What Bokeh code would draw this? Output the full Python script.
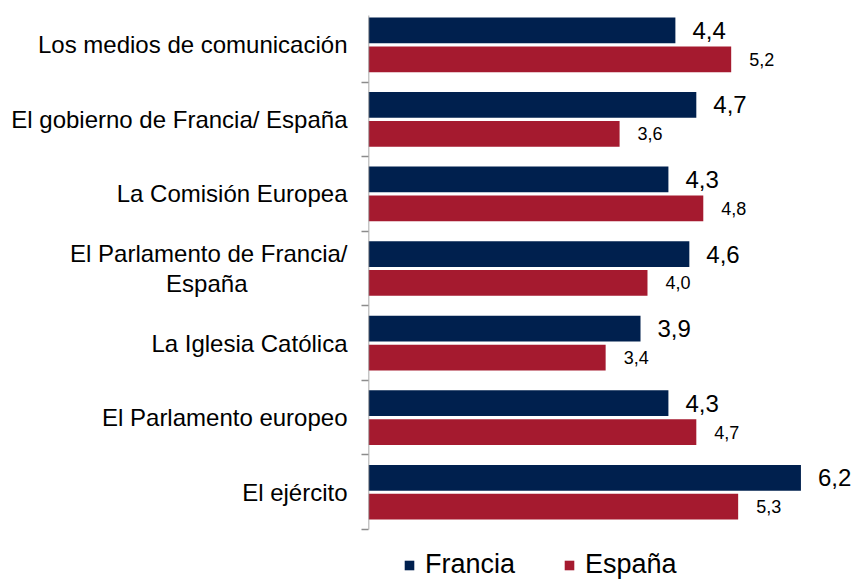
from bokeh.plotting import figure
from bokeh.models import ColumnDataSource, Range1d, FixedTicker, Legend, LegendItem
from bokeh.core.properties import value
from bokeh.embed import file_html
from bokeh.resources import INLINE

NB = "\u00a0"
categories = [
    "Los medios de comunicación",
    "El gobierno de Francia/ España",
    "La Comisión Europea",
    "El Parlamento de Francia/\nEspaña" + NB * 15,
    "La Iglesia Católica",
    "El Parlamento europeo",
    "El ejército",
]
francia = [4.4, 4.7, 4.3, 4.6, 3.9, 4.3, 6.2]
espana = [5.2, 3.6, 4.8, 4.0, 3.4, 4.7, 5.3]
series_names = ["Francia", "España"]
colors = ["#00204E", "#A51A2F"]

n = len(categories)
pos = [n - i for i in range(n)]  # top category at highest position
off = 0.194
bar_h = 0.345
axis_top = n + 0.393
axis_bottom = 0.5

def fmt(v):
    return f"{v:.1f}".replace(".", ",")

src_f = ColumnDataSource(dict(y=[p_ + off for p_ in pos], x=francia,
                              lab=[fmt(v) for v in francia]))
src_e = ColumnDataSource(dict(y=[p_ - off for p_ in pos], x=espana,
                              lab=[fmt(v) for v in espana]))

p = figure(width=854, height=580, output_backend="svg", toolbar_location=None,
           x_range=Range1d(0, 6.968), y_range=Range1d(-0.1836, 7.594),
           x_axis_location=None, min_border_left=368, min_border_right=0,
           min_border_top=0, min_border_bottom=0)
p.outline_line_color = None
p.xgrid.visible = False
p.ygrid.visible = False

rf = p.hbar(y="y", right="x", left=0, height=bar_h, source=src_f,
            fill_color=colors[0], line_color=None)
re_ = p.hbar(y="y", right="x", left=0, height=bar_h, source=src_e,
             fill_color=colors[1], line_color=None)

# category axis line (limited to the category bands)
p.segment(x0=[0], y0=[axis_bottom], x1=[0], y1=[axis_top],
          line_color="#8C8C8C", line_width=1.5)

p.text(x="x", y="y", text="lab", source=src_f, x_offset=17,
       text_font=value("Liberation Sans"), text_font_size=value("24px"),
       text_baseline="middle", text_align="left", text_color="#000000")
p.text(x="x", y="y", text="lab", source=src_e, x_offset=18,
       text_font=value("Liberation Sans"), text_font_size=value("18px"),
       text_baseline="middle", text_align="left", text_color="#000000")

ax = p.yaxis[0]
ax.ticker = FixedTicker(ticks=pos, minor_ticks=[k + 0.5 for k in range(n)])
ax.major_label_overrides = {pp: c for pp, c in zip(pos, categories)}
ax.major_tick_out = 0
ax.major_tick_in = 0
ax.minor_tick_out = 7
ax.minor_tick_in = 0
ax.minor_tick_line_color = "#8C8C8C"
ax.minor_tick_line_width = 1.5
ax.axis_line_color = None
ax.major_label_standoff = 14
ax.major_label_text_font = "Liberation Sans"
ax.major_label_text_font_size = "24px"
ax.major_label_text_line_height = 1.1
ax.major_label_text_color = "#000000"

legend = Legend(items=[LegendItem(label=series_names[0], renderers=[rf]),
                       LegendItem(label=series_names[1], renderers=[re_])],
                orientation="horizontal", location=(35, 0),
                glyph_width=12, glyph_height=12, label_standoff=10, spacing=48,
                label_text_font="Liberation Sans", label_text_font_size="27px",
                label_text_color="#000000", margin=0, padding=0,
                border_line_color=None, background_fill_alpha=0)
p.add_layout(legend, "center")

open("out.html", "w").write(file_html(p, INLINE))
